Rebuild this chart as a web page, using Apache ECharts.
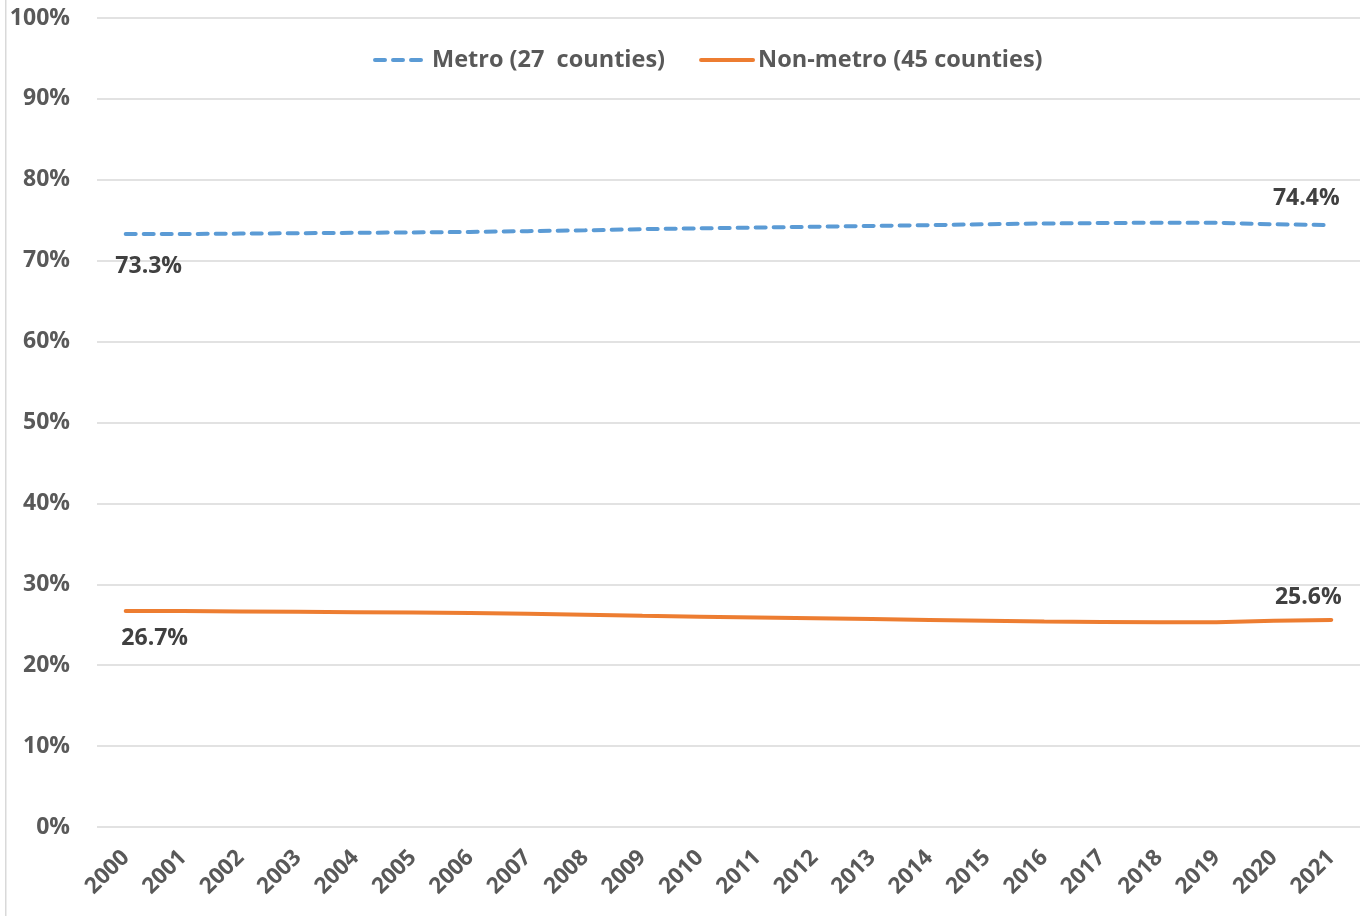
<!DOCTYPE html>
<html><head><meta charset="utf-8">
<script src="https://cdn.jsdelivr.net/npm/echarts@6/dist/echarts.min.js"></script>
<style>html,body{margin:0;padding:0;background:#fff}#c{width:1360px;height:916px}</style>
</head><body><div id="c"></div>
<script>
const years = ['2000','2001','2002','2003','2004','2005','2006','2007','2008','2009','2010','2011','2012','2013','2014','2015','2016','2017','2018','2019','2020','2021'];
const metro = [73.3,73.3,73.35,73.4,73.45,73.5,73.55,73.65,73.75,73.9,74.0,74.1,74.2,74.3,74.4,74.5,74.6,74.65,74.7,74.7,74.5,74.4];
const nonMetro = [26.7,26.7,26.65,26.6,26.55,26.5,26.45,26.35,26.25,26.1,26.0,25.9,25.8,25.7,25.6,25.5,25.4,25.35,25.3,25.3,25.5,25.6];
const yTicks = [0,10,20,30,40,50,60,70,80,90,100];
const seriesNames = ['Metro (27  counties)','Non-metro (45 counties)'];

const FONT = '"Open Sans", "Liberation Sans", sans-serif';
function mkLabel(pos, off){
  return {show:true, position:pos, offset:off, fontFamily:FONT, fontWeight:'bold', fontSize:23, color:'#404040',
          formatter: function(p){ return Number(p.value).toFixed(1)+'%'; }};
}
function withLabels(arr, firstPos, firstOff, lastPos, lastOff){
  return arr.map(function(v,i){
    if(i===0) return {value:v, label:mkLabel(firstPos, firstOff)};
    if(i===arr.length-1) return {value:v, label:mkLabel(lastPos, lastOff)};
    return {value:v};
  });
}
const chart = echarts.init(document.getElementById('c'));
chart.setOption({
  animation:false,
  backgroundColor:'#fff',
  grid:{left:97, right:0, top:18, bottom:89, containLabel:false},
  legend:{
    show:true, top:43, left:368, itemGap:34, itemWidth:52, itemHeight:12,
    itemStyle:{opacity:0},
    lineStyle:{width:4},
    textStyle:{fontFamily:FONT, fontWeight:'bold', fontSize:23.5, color:'#595959'},
    data:seriesNames
  },
  xAxis:{
    type:'category', data:years, boundaryGap:true,
    axisLine:{show:false}, axisTick:{show:false},
    axisLabel:{rotate:45, fontFamily:FONT, fontWeight:'bold', fontSize:22.5, color:'#595959', margin:27, interval:0}
  },
  yAxis:{
    type:'value', min:0, max:100, interval:10,
    axisLabel:{fontFamily:FONT, fontWeight:'bold', fontSize:23, color:'#595959', margin:27,
      formatter: function(v){ return yTicks.indexOf(v) >= 0 ? v+'%' : ''; }},
    splitLine:{lineStyle:{color:'#D9D9D9', width:1.5}},
    axisLine:{show:false}, axisTick:{show:false}
  },
  graphic:[{type:'rect', shape:{x:5,y:-2,width:1.5,height:920}, style:{fill:'#D9D9D9'}}],
  series:[
    {name:seriesNames[0], type:'line', data:withLabels(metro,'bottom',[23,16],'top',[-25,-10]),
     symbol:'circle', symbolSize:0, showSymbol:true,
     lineStyle:{color:'#5B9BD5', width:4, type:[10,8], cap:'round'}, itemStyle:{color:'#5B9BD5'}},
    {name:seriesNames[1], type:'line', data:withLabels(nonMetro,'bottom',[29,11],'top',[-23,-6]),
     symbol:'circle', symbolSize:0, showSymbol:true,
     lineStyle:{color:'#ED7D31', width:4, cap:'round'}, itemStyle:{color:'#ED7D31'}}
  ]
});
</script></body></html>
